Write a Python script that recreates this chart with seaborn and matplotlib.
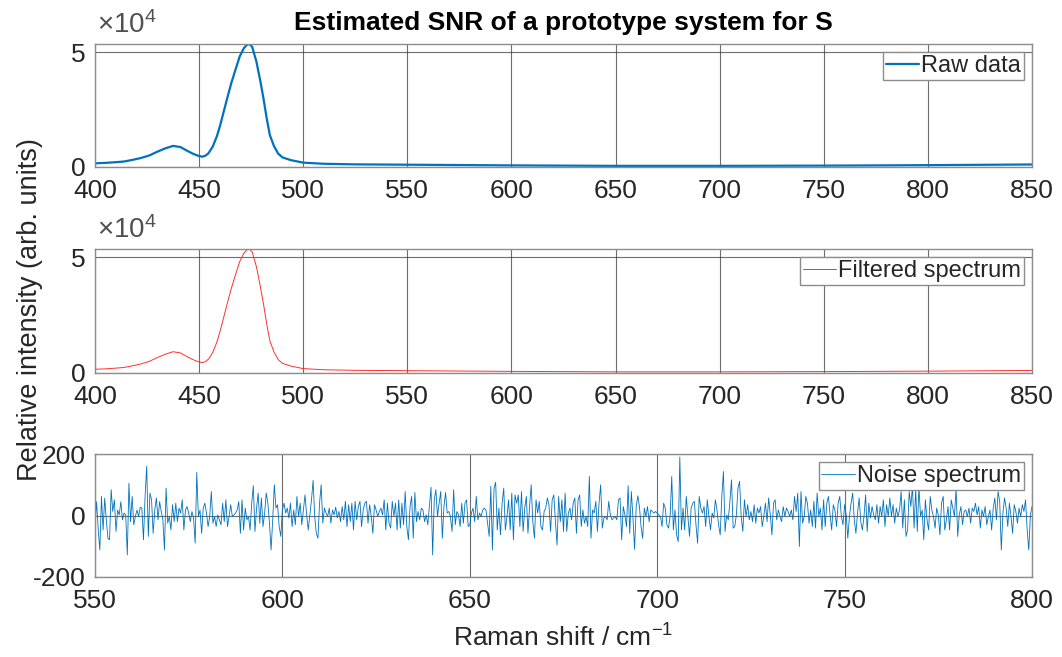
import numpy as np
import pandas as pd
import matplotlib.pyplot as plt
import seaborn as sns

# spectrum knots (Raman shift / cm-1, counts)
raman_shift = [400, 405, 410, 414, 418, 422, 426, 430, 434, 437.5, 441, 444, 447,
               449.5, 451.5, 453, 454.5, 456.5, 458.5, 460, 461.5, 463.5, 465.5,
               467.5, 469.5, 471.5, 473, 474.2, 475.5, 477.5, 479.5, 481, 482.5,
               484, 486, 488, 490, 494, 500, 510, 525, 550, 600, 650, 700, 750,
               800, 850]
raw_intensity = [1600, 1800, 2100, 2400, 3100, 3900, 5000, 6700, 8200, 9200, 8700,
                 7200, 5800, 4900, 4500, 4900, 6000, 8800, 13300, 17800, 23000,
                 30000, 36700, 42500, 48200, 51800, 53300, 53600, 52300, 46000,
                 37000, 29400, 21000, 13800, 9000, 5800, 4200, 3000, 1900, 1400,
                 1150, 1000, 700, 500, 500, 600, 800, 1100]
filtered_intensity = [1600, 1800, 2100, 2400, 3100, 3900, 5000, 6700, 8200, 9200, 8700,
                      7200, 5800, 4900, 4500, 4900, 6000, 8800, 13300, 17800, 23000,
                      30000, 36700, 42500, 48200, 51800, 53300, 53600, 52300, 46000,
                      37000, 29400, 21000, 13800, 9000, 5800, 4200, 3000, 1900, 1400,
                      1150, 1000, 700, 500, 500, 600, 800, 1100]

# noise spectrum, 550 -> 800 cm-1, evenly sampled
noise_values = [
    -36, 45, -47, -112, 62, -47, 56, -14, -74, -79, 84, 13, 51, -52, 18, 2, 45, -14, 8, 2,
    -128, 105, -20, 62, -30, -3, 18, -3, 27, 24, -79, 62, 160, -68, 73, 51, -58, 18, 57, -14,
    45, 13, -14, -112, 89, -25, -3, -47, 35, -20, 40, -20, 24, 8, 51, -47, 18, 29, 8, -20,
    13, -8, -90, 140, -3, 18, -58, 24, 40, 8, -36, -3, 78, -25, -3, -36, 2, -14, -30, 40,
    -20, 51, -36, -3, 35, -3, 2, 8, 18, 45, -58,
    51, -47, 24, -14, -3, -47, 40, 97, -52, 24, 73, -25, 57, -36, 8, 73, 40, -25, -112, -14,
    100, 24, 35, -36, -68, 18, 40, 8, 24, -8, 40, -36, 18, -30, 62, -3, 40, -30, 18, 67,
    2, -47, 2, 51, 114, -3, -58, -74, 40, 100, -25, 24, 8, -3, 24, -25, 18, 2, 27, -8,
    13, -20, 29, -14, 46, -36, 35, -20, 40, -47, 46, -14, 29, 46, -36, 18, 40, 46, -25, 35,
    -3, -58, 35, 18, -3, 13, 24, 2, 51, -47, 40, -25, -41, 46, -3, 40, -47,
    51, -41, 40, -30, 78, -36, -79, 29, 62, -74, 75, -20, 13, -14, 24, 18, -20, 2, -30, 29,
    92, -128, 51, 84, -3, 40, 78, -74, 29, 75, 8, 13, -3, -52, 84, -30, 13, 2, -36, 40,
    -25, 40, 51, -36, -30, 8, 24, -20, 62, -14, 8, -3, 18, 24, 18, -25, -68, 95, -112, 89,
    108, -47, 24, -63, 40, 89, -47, -3, 51, -47, 73, -79, 67, 40, 67, -36, 78, -52, 24, 62,
    -58, 29, 100, -20, -74, 51, 8, 46, -36, -47, 13, 24, 57, 35, -52, 51, 67, -20,
    -96, 62, -20, 51, -52, 73, -52, 8, 24, -14, 40, 57, -58, 51, 67, -36, 18, -25, -3, -36,
    127, -74, 18, 8, 46, -52, 40, 100, -41, -8, -3, -14, 46, 2, -14, -8, -3, -14, 51, 57,
    -79, 29, 2, -36, 97, -58, 78, -8, -110, 29, 64, 29, -36, -74, 24, -3, 29, -20, 18, 13,
    8, 13, 8, 2, -3, -36, 40, 24, -30, -41, -3, 127, -47, 18, -63, -85, 190, -47, 24, -47,
    62, -3, -68, 24, 40, 46, -30, -90, 62, 24, 8, 29, -36, 51, -3, -47, 8, -8, 51, 18, -30,
    -63, 62, 143, -52, 2, -14, 46, 116, -41, -36, 2, 89, 111, -3, -52, 51, -3, 35, -14, 13,
    -20, 35, -25, 24, 8, 29, -36, -3, 40, -20, 57, 2, -63, 40, 51, -14, 18, -3, -20, 29,
    -3, 24, 13, -3, 18, -14, 62, 13, 73, -101, 78, -25, -3, 62, 40, -25, 18, -36, 46, -41,
    73, -3, 24, -47, 51, -36, 40, 62, 2, -47, 35, 18, -36, 40, 62, -3, -30, 35, 2, -74,
    -3, 40, 73, -14, -58, 8, 57, -20, -47, -3, 67, -52, 40, -8, 29, 2, -14, 35, -25,
    29, -3, 51, -36, 35, -3, 57, -3, 35, -25, 24, -3, 18, 78, -41, 51, -68, -47, 78, 29,
    95, -41, 84, -52, 95, -3, 18, -79, 51, -14, -47, 62, 18, -3, -41, 24, 2, -63, 40, 62,
    -47, -14, 29, -47, 51, 24, -3, 89, -68, 2, 29, -30, 13, 18, -3, 24, -25, 24, 13, 40,
    2, 29, -41, 18, -3, 29, -30, -3, 18, -47, 24, 57, -14, 78, 46, -112, 8, 57, 24, -36,
    40, -3, -58, 35, 13, -25, 24, -3, 35, 13, 51, -47, -112, 2, 29,
]
noise_start, noise_end = 550, 800

spec_xticks = [400, 450, 500, 550, 600, 650, 700, 750, 800, 850]
noise_xticks = [550, 600, 650, 700, 750, 800]
noise_yticks = [-200, 0, 200]

df_spec = pd.DataFrame({"shift": raman_shift, "raw": raw_intensity,
                        "filtered": filtered_intensity})
df_noise = pd.DataFrame({"shift": np.linspace(noise_start, noise_end, len(noise_values)),
                         "noise": noise_values})

sns.set_theme(style="white")
plt.rcParams['font.family'] = ['Liberation Sans', 'DejaVu Sans']
plt.rcParams['mathtext.fontset'] = 'custom'
plt.rcParams['mathtext.rm'] = 'Liberation Sans'
plt.rcParams['mathtext.it'] = 'Liberation Sans'

BLUE = '#0072BD'
TXT = '#262626'
EDGE = '#8c8c8c'
TICK_FS = 19
LEG_FS = 17

fig = plt.figure(figsize=(10.62, 6.57), dpi=100)
W, H = 1062, 657


def box(left, top, right, bottom):
    return [left / W, 1 - bottom / H, (right - left) / W, (bottom - top) / H]


ax1 = fig.add_axes(box(95, 44, 1032, 167))
ax2 = fig.add_axes(box(95, 249, 1032, 373))
ax3 = fig.add_axes(box(95, 454, 1032, 577))

sns.lineplot(data=df_spec, x="shift", y="raw", ax=ax1, color=BLUE, linewidth=1.6,
             label="Raw data")
sns.lineplot(data=df_spec, x="shift", y="filtered", ax=ax2, color='#ff3030', linewidth=0.7,
             label="Filtered spectrum")
sns.lineplot(data=df_noise, x="shift", y="noise", ax=ax3, color=BLUE, linewidth=0.6,
             label="Noise spectrum")

for ax in (ax1, ax2):
    ax.set_xlim(400, 850)
    ax.set_ylim(0, max(raw_intensity))
    ax.set_xticks(spec_xticks)
    ax.set_yticks([0, 50000])
    ax.set_yticklabels(['0', '5'])
    ax.text(0.002, 1.04, r'$\times10^{4}$', transform=ax.transAxes, ha='left',
            va='bottom', fontsize=20, color='#505050')

ax3.set_xlim(noise_start, noise_end)
ax3.set_ylim(-200, 200)
ax3.set_xticks(noise_xticks)
ax3.set_yticks(noise_yticks)
ax3.set_yticklabels(['-200', '0', '200'])

for ax in (ax1, ax2, ax3):
    ax.set_xlabel('')
    ax.set_ylabel('')
    ax.grid(True, color='#303030', alpha=0.7, linewidth=0.8)
    ax.set_axisbelow(True)
    for s in ax.spines.values():
        s.set_color(EDGE)
        s.set_linewidth(1.0)
        s.set_visible(True)
    ax.tick_params(axis='both', labelsize=TICK_FS, colors=TXT, length=0)
    ax.tick_params(axis='x', pad=9)
    ax.tick_params(axis='y', pad=7)
    ax.legend(loc='upper right', fontsize=LEG_FS, frameon=True, fancybox=False,
              edgecolor=EDGE, framealpha=1, handlelength=1.4, handletextpad=0.1,
              borderpad=0.12, borderaxespad=0.35, labelcolor=TXT)

ax1.set_title('Estimated SNR of a prototype system for S', fontsize=19,
              fontweight='bold', color='black', pad=10)
fig.text(30 / W, 1 - 310 / H, 'Relative intensity (arb. units)', rotation=90,
         ha='center', va='center', fontsize=19.5, color=TXT)
fig.text(563 / W, 1 - 638 / H, r'Raman shift / cm$^{-1}$', ha='center', va='center',
         fontsize=19, color=TXT)

fig.savefig('out.png', dpi=100)
